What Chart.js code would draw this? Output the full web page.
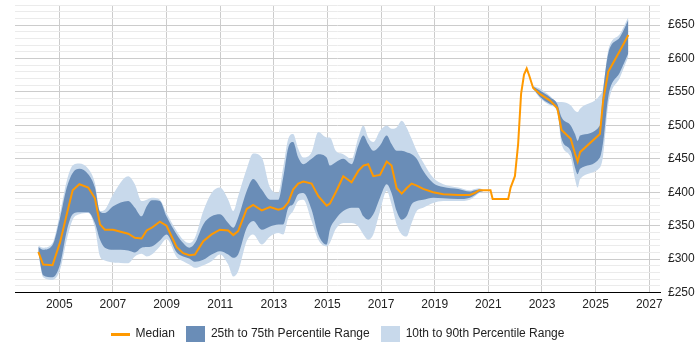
<!DOCTYPE html>
<html>
<head>
<meta charset="utf-8">
<script src="https://cdn.jsdelivr.net/npm/chart.js@4/dist/chart.umd.min.js"></script>
<style>
  body { margin: 0; background: #fff; }
</style>
</head>
<body>
<canvas id="myChart" width="700" height="350"></canvas>
<script>
// sample dates (decimal years)
const years = [
  2004.22, 2004.40, 2004.75, 2005.03, 2005.28, 2005.50, 2005.75, 2006.08, 2006.33, 2006.52,
  2006.70, 2007.01, 2007.57, 2007.82, 2008.07, 2008.26, 2008.45, 2008.75, 2009.00, 2009.38,
  2009.62, 2009.85, 2010.06, 2010.37, 2010.68, 2010.99, 2011.30, 2011.49, 2011.67, 2011.99,
  2012.23, 2012.55, 2012.86, 2013.17, 2013.35, 2013.54, 2013.72, 2013.91, 2014.10, 2014.41,
  2014.66, 2014.97, 2015.09, 2015.31, 2015.59, 2015.90, 2016.15, 2016.34, 2016.52, 2016.71,
  2016.96, 2017.21, 2017.39, 2017.58, 2017.77, 2017.95, 2018.14, 2018.33, 2018.57, 2018.94,
  2019.32, 2019.88, 2020.31, 2020.50, 2020.66, 2020.80, 2021.08, 2021.16, 2021.74, 2021.83,
  2021.99, 2022.11, 2022.22, 2022.33, 2022.43, 2022.52, 2022.67, 2022.92, 2023.30, 2023.57,
  2023.73, 2024.07, 2024.23, 2024.33, 2024.42, 2025.16, 2025.28, 2025.47, 2025.91, 2026.22
];

const median = [
  311, 292, 291, 325, 367, 403, 412, 407, 391, 352,
  344, 344, 338, 332, 331, 343, 347, 356, 350, 318,
  309, 306, 307, 327, 337, 344, 343, 336, 342, 375,
  381, 373, 378, 374, 376, 385, 404, 413, 416, 413,
  394, 380, 383, 400, 424, 415, 432, 440, 442, 424,
  426, 446, 440, 406, 398, 406, 413, 410, 405, 400,
  397, 396, 396, 399, 403, 403, 403, 390, 390, 407,
  424, 472, 547, 576, 585, 575, 556, 547, 537, 526,
  493, 480, 458, 446, 460, 487, 537, 580, 612, 635
];

const p25 = [
  310, 276, 273, 292, 342, 367, 370, 370, 354, 329,
  317, 314, 313, 310, 317, 318, 319, 328, 337, 310,
  304, 301, 296, 299, 307, 312, 307, 302, 307, 347,
  357, 344, 349, 352, 352, 377, 382, 397, 399, 374,
  337, 322, 344, 360, 372, 377, 377, 364, 359, 367,
  392, 412, 399, 372, 359, 364, 382, 387, 389, 392,
  391, 390, 392, 396, 400, 402, null, null, null, null,
  null, null, null, null, null, null, 555, 543, 532, 522,
  480, 462, 437, 427, 435, 452, 475, 542, 580, 608
];

const p75 = [
  318, 314, 321, 362, 407, 429, 435, 427, 407, 371,
  369, 379, 387, 377, 364, 379, 388, 387, 364, 337,
  324, 317, 324, 352, 364, 367, 354, 347, 362, 402,
  420, 404, 389, 389, 422, 467, 475, 452, 442, 450,
  457, 452, 440, 445, 450, 442, 470, 485, 472, 462,
  470, 485, 472, 462, 462, 460, 457, 450, 432, 414,
  408, 405, 401, 403, 404, 403, null, null, null, null,
  null, null, null, null, null, null, 558, 552, 542, 532,
  512, 500, 487, 477, 485, 500, 552, 607, 632, 658
];

const p10 = [
  309, 273, 269, 284, 329, 359, 367, 369, 347, 304,
  298, 295, 294, 304, 308, 304, 307, 319, 330, 303,
  297, 292, 287, 291, 297, 307, 292, 274, 282, 327,
  337, 322, 334, 339, 337, 362, 372, 387, 389, 357,
  329, 319, 324, 345, 354, 354, 349, 337, 329, 337,
  372, 402, 382, 352, 337, 334, 354, 372, 377, 384,
  387, 387, 389, 394, 399, 401, null, null, null, null,
  null, null, null, null, null, null, 554, 541, 530, 520,
  472, 452, 420, 407, 420, 437, 455, 530, 572, 603
];

const p90 = [
  320, 317, 324, 369, 417, 440, 443, 435, 414, 372,
  374, 397, 424, 412, 387, 389, 392, 389, 369, 342,
  329, 324, 332, 372, 399, 407, 389, 372, 394, 435,
  458, 452, 407, 399, 437, 480, 487, 465, 452, 460,
  490, 482, 482, 462, 457, 450, 482, 500, 482, 475,
  492, 500, 495, 497, 507, 497, 480, 462, 445, 422,
  412, 407, 403, 405, 406, 404, null, null, null, null,
  null, null, null, null, null, null, 559, 555, 544, 535,
  535, 530, 522, 520, 525, 545, 556, 612, 637, 662
];

const xTicks = [2005, 2007, 2009, 2011, 2013, 2015, 2017, 2019, 2021, 2023, 2025, 2027];

const colors = {
  median: "#ff9900",
  inner: "rgb(106, 141, 183)",
  outer: "rgb(200, 217, 235)"
};

function pts(values) {
  return years.map((x, i) => ({ x: x, y: values[i] }));
}

// legend swatches
function swatch(color, w, h) {
  const c = document.createElement('canvas');
  c.width = w;
  c.height = h;
  const g = c.getContext('2d');
  g.fillStyle = color;
  g.fillRect(0, 0, w, h);
  return c;
}
const icons = [swatch(colors.median, 19, 3), swatch(colors.inner, 19, 16), null, swatch(colors.outer, 19, 16)];

const band = { borderWidth: 0, pointRadius: 0, pointHoverRadius: 0, spanGaps: false, cubicInterpolationMode: 'monotone' };

const data = {
  datasets: [
    { label: "Median", data: pts(median), borderColor: colors.median, borderWidth: 2, pointRadius: 0, fill: false, tension: 0 },
    Object.assign({ label: "25th to 75th Percentile Range", data: pts(p75), backgroundColor: colors.inner, fill: '+1' }, band),
    Object.assign({ label: "", data: pts(p25), fill: false }, band),
    Object.assign({ label: "10th to 90th Percentile Range", data: pts(p90), backgroundColor: colors.outer, fill: '+1' }, band),
    Object.assign({ label: "", data: pts(p10), fill: false }, band)
  ]
};

const font = { family: "'Liberation Sans', Arial, sans-serif", size: 12 };

// center the legend under the plot area rather than the whole canvas
const legendUnderPlot = {
  id: 'legendUnderPlot',
  afterLayout(chart) {
    chart.legend.left = chart.chartArea.left;
    chart.legend.right = chart.chartArea.right;
  }
};

const config = {
  type: "line",
  data: data,
  plugins: [legendUnderPlot],
  options: {
    responsive: false,
    animation: false,
    layout: { padding: { left: 15, top: 5, right: 0, bottom: 0 } },
    plugins: {
      tooltip: { enabled: false },
      legend: {
        position: 'bottom',
        labels: {
          usePointStyle: true,
          pointStyleWidth: 19,
          padding: 11,
          color: '#222',
          font: font,
          generateLabels(chart) {
            const items = Chart.defaults.plugins.legend.labels.generateLabels(chart);
            return items.filter(it => it.text).map(it => Object.assign(it, { pointStyle: icons[it.datasetIndex] }));
          }
        }
      }
    },
    scales: {
      x: {
        type: 'linear',
        min: 2003.35,
        max: 2027.4,
        afterBuildTicks: axis => { axis.ticks = xTicks.map(v => ({ value: v })); },
        ticks: { color: '#222', font: font, padding: 5, maxRotation: 0, callback: v => String(v) },
        grid: { color: '#cccccc', drawTicks: false },
        border: { color: '#000', width: 1 }
      },
      y: {
        position: 'right',
        min: 250,
        max: 680,
        afterFit: s => { s.width = 40; s.paddingTop = 0; s.paddingBottom = 0; },
        ticks: {
          stepSize: 10,
          autoSkip: false,
          color: '#222',
          font: font,
          padding: 8,
          callback: v => (v % 50 === 0 ? '£' + v : '')
        },
        grid: {
          drawTicks: false,
          color: c => (c.tick && c.tick.value % 50 === 0 ? '#cccccc' : '#ebebeb')
        },
        border: { display: false }
      }
    }
  }
};

const ctx = document.getElementById('myChart').getContext('2d');
new Chart(ctx, config);
</script>
</body>
</html>
